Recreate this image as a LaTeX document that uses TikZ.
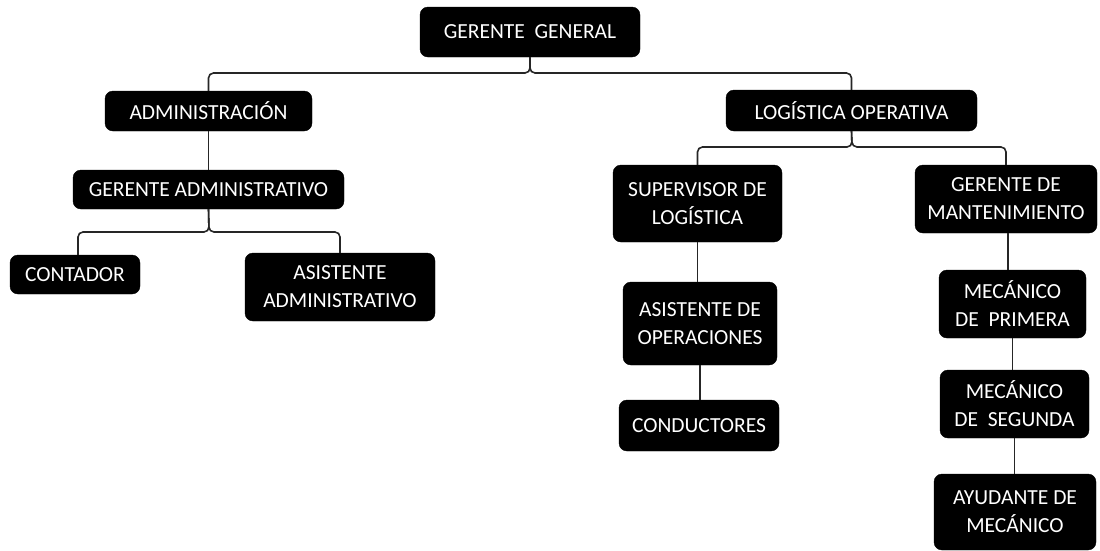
\documentclass[tikz,border=0pt]{standalone}
\usepackage{fontspec}
\setmainfont{Carlito}
\begin{document}
\begin{tikzpicture}[x=1pt,y=-1pt,
  box/.style={draw=black,fill=black,rounded corners=8pt,text=white,align=center,inner sep=0pt,
    font={\fontsize{21.5}{28}\selectfont}},
  conn/.style={draw=black!85,line width=1.6pt,rounded corners=5pt}]
\useasboundingbox[fill=white] (0,0) rectangle (1100,550);
\node[box,minimum width=220pt,minimum height=50pt] (gg) at (530,32) {GERENTE~ GENERAL};
\node[box,minimum width=207pt,minimum height=40pt] (adm) at (208.5,111) {ADMINISTRACIÓN};
\node[box,minimum width=251pt,minimum height=41pt] (log) at (851.5,110.5) {LOGÍSTICA OPERATIVA};
\node[box,minimum width=271pt,minimum height=39pt] (gadm) at (208.5,189.5) {GERENTE ADMINISTRATIVO};
\node[box,minimum width=130pt,minimum height=39pt] (cont) at (75,274.5) {CONTADOR};
\node[box,minimum width=190pt,minimum height=68pt] (asadm) at (340,287) {ASISTENTE\\ADMINISTRATIVO};
\node[box,minimum width=169pt,minimum height=77pt] (sup) at (697.5,203.5) {SUPERVISOR DE\\LOGÍSTICA};
\node[box,minimum width=182pt,minimum height=68pt] (gman) at (1006,199) {GERENTE DE\\MANTENIMIENTO};
\node[box,minimum width=154pt,minimum height=83pt] (asop) at (700,323.5) {ASISTENTE DE\\OPERACIONES};
\node[box,minimum width=160pt,minimum height=51pt] (cond) at (699,425.5) {CONDUCTORES};
\node[box,minimum width=147pt,minimum height=68pt] (mec1) at (1012.5,304) {MECÁNICO\\DE~~PRIMERA};
\node[box,minimum width=149pt,minimum height=68pt] (mec2) at (1014.5,404) {MECÁNICO\\DE~~SEGUNDA};
\node[box,minimum width=162pt,minimum height=76pt] (ayu) at (1015,512) {AYUDANTE DE\\MECÁNICO};
% braces
\coordinate (b1) at (530,73);
\draw[conn] (adm.north) |- (b1) -- (gg.south);
\draw[conn] (log.north) |- (b1) -- (gg.south);
\coordinate (b2) at (209,232);
\draw[conn] ([xshift=3pt]cont.north) |- (b2) -- (gadm.south);
\draw[conn] (asadm.north) |- (b2) -- (gadm.south);
\coordinate (b3) at (852,147);
\draw[conn] (sup.north) |- (b3) -- (log.south);
\draw[conn] (gman.north) |- (b3) -- (log.south);
% straight
\draw[conn] (adm.south) -- (gadm.north);
\draw[conn] (sup.south) -- (sup.south |- asop.north);
\draw[conn] (asop.south) -- (asop.south |- cond.north);
\draw[conn] ([xshift=2pt]gman.south) -- ([xshift=2pt]gman.south |- mec1.north);
\draw[conn] (mec1.south) -- (mec1.south |- mec2.north);
\draw[conn] (mec2.south) -- (mec2.south |- ayu.north);
\end{tikzpicture}
\end{document}
